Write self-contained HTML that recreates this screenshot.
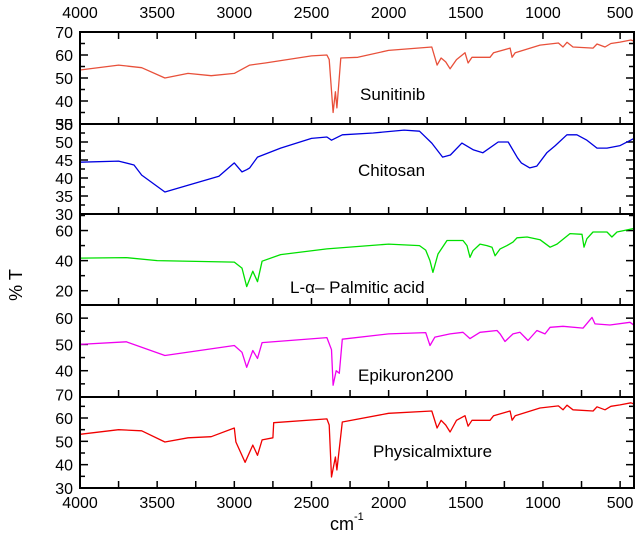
<!DOCTYPE html>
<html><head><meta charset="utf-8"><style>
body{margin:0;background:#fff;}
svg{display:block;font-family:"Liberation Sans",Arial,sans-serif;}
</style></head><body>
<svg id="chart" width="639" height="539" viewBox="0 0 639 539" xmlns="http://www.w3.org/2000/svg">
<rect width="639" height="539" fill="#fff"/>
<g id="g"></g>
</svg>
<script>
const xTicks=[4000,3500,3000,2500,2000,1500,1000,500];
const sunitinibW=[4000,3750,3600,3450,3300,3150,3000,2900,2800,2500,2400,2385,2360,2345,2335,2310,2200,2000,1720,1686,1660,1630,1602,1560,1505,1485,1460,1343,1320,1213,1200,1180,1019,900,870,844,805,675,650,598,560,500,430,410];
const sunitinibV=[53.5,55.6,54.5,50,52,51,52,55.6,56.5,59.6,60,58,35,44,37,58.7,59,62,63.5,55.6,58.7,57,54,58,61,56.5,59,59,61,63,59,61,64.3,65.2,63.5,65.5,63.5,63,64.8,63.5,65,65.6,66.5,66];
const chitosanW=[4000,3750,3650,3600,3450,3300,3100,3000,2950,2920,2900,2850,2700,2500,2400,2370,2300,2100,1900,1800,1720,1650,1600,1525,1450,1390,1290,1225,1165,1140,1085,1040,975,920,845,780,715,650,585,500,410];
const chitosanV=[44.4,44.7,43.6,40.8,36.1,38,40.5,44.2,41.7,42.3,42.8,45.8,48.3,51,51.4,50.5,52,52.5,53.3,53,49.7,45.8,46.4,49.7,47.8,47,50,50,45.6,44.2,42.8,43.3,47,49,52,52,50.5,48.3,48.3,49,51];
const palmiticW=[4000,3700,3500,3000,2950,2920,2880,2850,2820,2700,2400,2000,1800,1760,1732,1713,1680,1622,1518,1492,1473,1453,1408,1363,1330,1310,1278,1233,1194,1168,1103,1019,954,909,825,747,734,715,676,585,553,520,416];
const palmiticV=[41.7,42,40,39,35,22.7,33,26,39.6,44,47.8,51,50,47,39.9,32.2,44.4,53.4,53.4,50,42.2,46.6,51,50,48.9,43.2,47.8,50,52.3,55.2,55.7,53.9,48.9,51,58,57.5,48.9,54.6,59,59,55.7,59,61.3];
const epikuronW=[4000,3700,3450,3000,2950,2920,2880,2850,2820,2400,2370,2360,2340,2320,2300,2000,1760,1732,1700,1602,1518,1473,1408,1298,1278,1246,1194,1149,1097,1039,987,954,870,740,682,663,566,436,410];
const epikuronV=[50,51,45.8,49.6,47,41.3,47.7,44.7,50.7,52.6,48,34.5,40,39,52,54,54.5,49.6,52.8,54,54.6,52.2,54.6,55.3,54,51.1,54,54.6,51.5,55.3,54,56.5,56.9,56.2,60.3,57.8,57.4,58.4,57.3];
const mixtureW=[4000,3750,3600,3450,3300,3150,3000,2990,2930,2880,2850,2820,2750,2745,2400,2385,2370,2345,2335,2300,2000,1720,1686,1660,1630,1602,1560,1505,1485,1460,1343,1320,1213,1200,1180,1019,900,870,844,805,675,650,598,560,500,430,410];
const mixtureV=[53,55,54.5,49.7,51.5,52,55.7,49.7,41,48.4,44,50.6,51.5,58,59.6,57,34.7,43.3,37.7,58.3,62,63,55.7,59,57,54,59,61,56.5,59,59,61,63,59,61,64.3,65.2,63.5,65.5,63.5,63,64.8,63.5,65,65.6,66.5,66];

const X0=80,X1=634,W0=4000,W1=410;
function xs(w){return X0+(W0-w)*(X1-X0)/(W0-W1);}
const NS="http://www.w3.org/2000/svg";
const G=document.getElementById('g');
function el(t,a,txt){const e=document.createElementNS(NS,t);for(const k in a)e.setAttribute(k,a[k]);if(txt!==undefined)e.textContent=txt;G.appendChild(e);return e;}

const panels=[
 {name:'sunitinib',top:32,bot:124,vmin:30,vmax:70,tick:5,lab:[30,40,50,60,70],W:sunitinibW,V:sunitinibV,color:'#e8503a',label:'Sunitinib',lx:360,ly:100},
 {name:'chitosan',top:124,bot:214,vmin:30,vmax:55,tick:2.5,lab:[30,35,40,45,50,55],W:chitosanW,V:chitosanV,color:'#0000e0',label:'Chitosan',lx:358,ly:176},
 {name:'palmitic-acid',top:214,bot:305,vmin:10.5,vmax:71,tick:10,lab:[20,40,60],W:palmiticW,V:palmiticV,color:'#00e000',label:'L-\u03b1\u2013 Palmitic acid',lx:290,ly:293},
 {name:'epikuron200',top:305,bot:397,vmin:30,vmax:65,tick:5,lab:[40,50,60],W:epikuronW,V:epikuronV,color:'#f000f0',label:'Epikuron200',lx:358,ly:381},
 {name:'physical-mixture',top:397,bot:488,vmin:30,vmax:69,tick:5,lab:[30,40,50,60,70],W:mixtureW,V:mixtureV,color:'#f00000',label:'Physicalmixture',lx:373,ly:457}
];
panels.forEach((p,i)=>{
 const ys=v=>p.bot-(v-p.vmin)*(p.bot-p.top)/(p.vmax-p.vmin);
 for(let v=Math.ceil(p.vmin/p.tick)*p.tick;v<=p.vmax+0.01;v+=p.tick){
  const y=ys(v);
  const major=p.lab.some(l=>Math.abs(l-v)<0.01);
  const t=el('line',{x1:X0,x2:X0+(major?8:5),y1:y,y2:y,stroke:'#000','stroke-width':1.5});
  
  
  const r=el('line',{x1:X1,x2:X1-(major?8:5),y1:y,y2:y,stroke:'#000','stroke-width':1.5});
  
  
 }
 p.lab.forEach(v=>{
  const t=el('text',{x:X0-7,y:ys(v)+6,'text-anchor':'end','font-size':16,fill:'#000'},String(v));
  
  
 });
 for(let w=4000;w>=W1;w-=250){
  const x=xs(w);
  const t=el('line',{x1:x,x2:x,y1:p.bot,y2:p.bot-7,stroke:'#000','stroke-width':1.5});
  
  
  if(i===0){const tt=el('line',{x1:x,x2:x,y1:p.top,y2:p.top+7,stroke:'#000','stroke-width':1.5});
   
   }
 }
 const pts=p.W.map((w,k)=>xs(w).toFixed(1)+','+ys(p.V[k]).toFixed(1)).join(' ');
 const pl=el('polyline',{points:pts,fill:'none',stroke:p.color,'stroke-width':1.3,'stroke-linejoin':'round'});
 
 
 const lb=el('text',{x:p.lx,y:p.ly,'font-size':17,fill:'#000'},p.label);
 
 
 const sep=el('line',{x1:X0,x2:X1,y1:p.bot,y2:p.bot,stroke:'#000','stroke-width':2});
 
 
});
const fr=el('rect',{x:X0,y:32,width:X1-X0,height:488-32,fill:'none',stroke:'#000','stroke-width':2});


xTicks.forEach(w=>{
 const a=el('text',{x:xs(w),y:18,'text-anchor':'middle','font-size':16,fill:'#000'},String(w));
 
 
 const b=el('text',{x:xs(w),y:508,'text-anchor':'middle','font-size':16,fill:'#000'},String(w));
 
 
});
const xt=el('text',{x:330,y:530,'font-size':18,fill:'#000'},'cm');


const xs2=el('text',{x:354,y:520,'font-size':11,fill:'#000'},'-1');


const yt=el('text',{x:22,y:285,'font-size':18,fill:'#000','text-anchor':'middle',transform:'rotate(-90 22 285)'},'% T');


</script>
</body></html>
